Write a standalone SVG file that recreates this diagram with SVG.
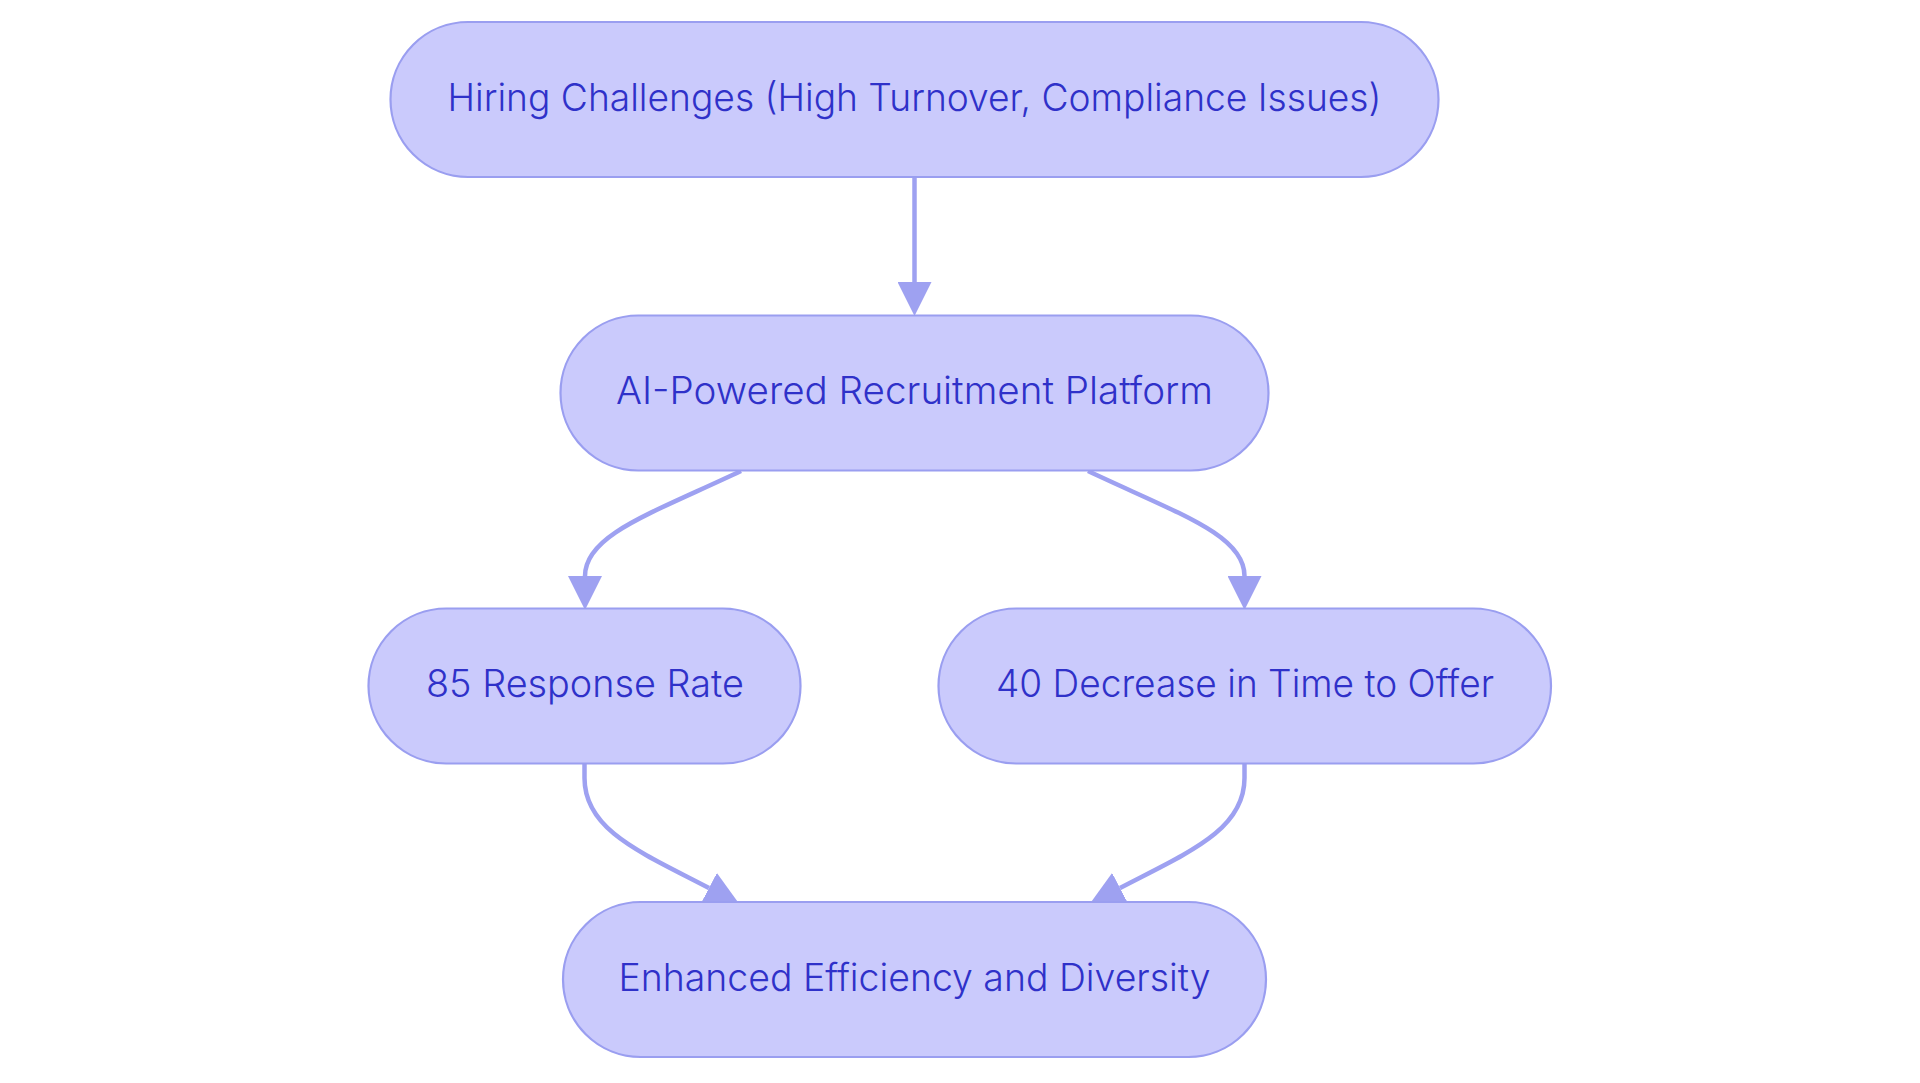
<svg xmlns="http://www.w3.org/2000/svg" width="1920" height="1083" viewBox="0 0 1920 1083">
<style>
.node rect{fill:#CACAFC;stroke:#9A9EF0;stroke-width:2.2}
.node text{font-family:Inter,"Noto Sans","Liberation Sans",sans-serif;font-size:38px;font-weight:300;fill:#2F31C9;text-anchor:middle}
.edge{fill:none;stroke:#9EA1F1;stroke-width:4.5}
</style>
<defs>
<marker id="arr" markerUnits="userSpaceOnUse" markerWidth="34" markerHeight="34" refX="0" refY="16" orient="auto" viewBox="0 0 32 32">
<path d="M0,0 L32,16 L0,32 z" fill="#9EA1F1"/>
</marker>
</defs>
<rect width="1920" height="1083" fill="#FFFFFF"/>
<g id="connectors">
<path class="edge" d="M914.5,177 L914.5,282" marker-end="url(#arr)"/>
<path class="edge" d="M741,471 C650,514 585,535 585,576" marker-end="url(#arr)"/>
<path class="edge" d="M1088,471 C1179,514 1244.5,535 1244.5,576" marker-end="url(#arr)"/>
<path class="edge" d="M584.5,764 L584.5,778 C584.5,830 640,852 709,888" marker-end="url(#arr)"/>
<path class="edge" d="M1244.5,764 L1244.5,778 C1244.5,830 1189,852 1120,888" marker-end="url(#arr)"/>
</g>
<g id="node-hiring" class="node">
<rect x="390.5" y="22" width="1048" height="155" rx="77.5" ry="77.5"/>
<text x="914.5" y="110.5" textLength="934" lengthAdjust="spacingAndGlyphs">Hiring Challenges (High Turnover, Compliance Issues)</text>
</g>
<g id="node-platform" class="node">
<rect x="560.5" y="315.5" width="708" height="155" rx="77.5" ry="77.5"/>
<text x="914.5" y="404" textLength="597" lengthAdjust="spacingAndGlyphs">AI-Powered Recruitment Platform</text>
</g>
<g id="node-response" class="node">
<rect x="368.5" y="608.5" width="432" height="155" rx="77.5" ry="77.5"/>
<text x="585" y="697" textLength="318" lengthAdjust="spacingAndGlyphs">85 Response Rate</text>
</g>
<g id="node-decrease" class="node">
<rect x="938.5" y="608.5" width="612.5" height="155" rx="77.5" ry="77.5"/>
<text x="1245" y="697" textLength="498" lengthAdjust="spacingAndGlyphs">40 Decrease in Time to Offer</text>
</g>
<g id="node-enhanced" class="node">
<rect x="563" y="902" width="703" height="155" rx="77.5" ry="77.5"/>
<text x="914.5" y="990.5" textLength="592" lengthAdjust="spacingAndGlyphs">Enhanced Efficiency and Diversity</text>
</g>
</svg>
